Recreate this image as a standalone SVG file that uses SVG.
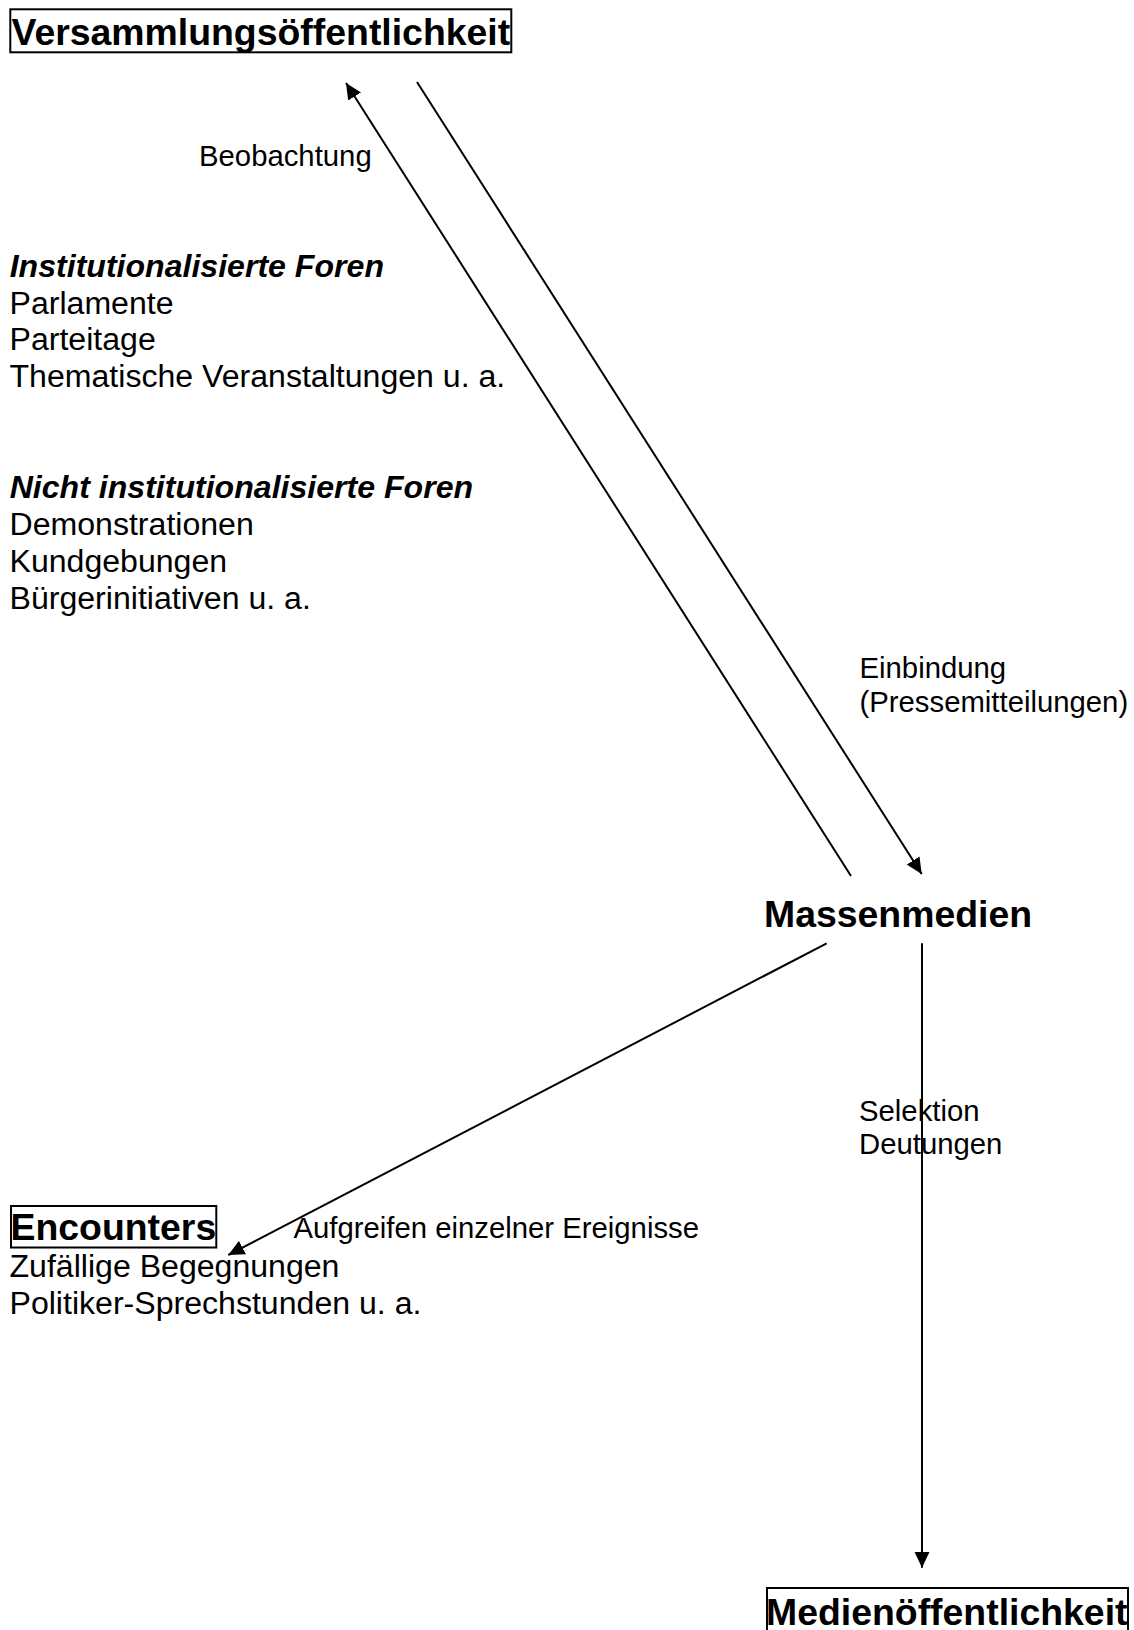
<svg xmlns="http://www.w3.org/2000/svg" width="1134" height="1630" viewBox="0 0 1134 1630">
  <defs>
    <marker id="arrowhead" markerUnits="userSpaceOnUse" markerWidth="18" markerHeight="18" refX="16" refY="7.6" orient="auto">
      <path d="M0,0 L16,7.6 L0,15.2 Z" fill="#000"/>
    </marker>
    <style>
      text { font-family: "Liberation Sans", Arial, sans-serif; fill: #000; }
      .title { font-size: 37.4px; font-weight: bold; }
      .head { font-size: 32.1px; font-weight: bold; font-style: italic; }
      .item { font-size: 32.1px; }
      .label { font-size: 29.3px; }
      .frame { fill: none; stroke: #000; stroke-width: 2; }
      .edge { fill: none; stroke: #000; stroke-width: 2; }
      .edge.arrow { marker-end: url(#arrowhead); }
    </style>
  </defs>
  <rect width="1134" height="1630" fill="#fff"/>

  <!-- connectors -->
  <g id="connectors">
    <line class="edge arrow" x1="851" y1="876" x2="346" y2="83"/>
    <line class="edge arrow" x1="417" y1="82" x2="921.7" y2="874"/>
    <line class="edge arrow" x1="826.7" y1="943.3" x2="228.3" y2="1255"/>
    <line class="edge arrow" x1="922" y1="943.3" x2="922" y2="1567.7"/>
  </g>

  <!-- edge labels -->
  <g id="edge-labels">
    <text class="label" x="199" y="165.5">Beobachtung</text>
    <text class="label" x="859.5" y="678.3">Einbindung</text>
    <text class="label" x="859.5" y="711.6">(Pressemitteilungen)</text>
    <text class="label" x="859" y="1120.7">Selektion</text>
    <text class="label" x="859" y="1154">Deutungen</text>
    <text class="label" x="293.5" y="1238">Aufgreifen einzelner Ereignisse</text>
  </g>

  <g id="node-versammlung">
    <rect class="frame" x="10.3" y="9.3" width="501" height="43"/>
    <text class="title" x="11.5" y="44.5">Versammlungsöffentlichkeit</text>
  </g>

  <g id="node-foren">
    <text class="head" x="9.7" y="276.7">Institutionalisierte Foren</text>
    <text class="item" x="9.5" y="313.5">Parlamente</text>
    <text class="item" x="9.5" y="350.3">Parteitage</text>
    <text class="item" x="9.5" y="387.1">Thematische Veranstaltungen u. a.</text>
    <text class="head" x="9.7" y="498.3">Nicht institutionalisierte Foren</text>
    <text class="item" x="9.5" y="535.1">Demonstrationen</text>
    <text class="item" x="9.5" y="571.9">Kundgebungen</text>
    <text class="item" x="9.5" y="608.7">Bürgerinitiativen u. a.</text>
  </g>

  <g id="node-massenmedien">
    <text class="title" x="764" y="926.5">Massenmedien</text>
  </g>

  <g id="node-encounters">
    <rect class="frame" x="11" y="1206" width="205.3" height="41.5"/>
    <text class="title" x="10.5" y="1239.5">Encounters</text>
    <text class="item" x="9.5" y="1277.3">Zufällige Begegnungen</text>
    <text class="item" x="9.5" y="1314.1">Politiker-Sprechstunden u. a.</text>
  </g>

  <g id="node-medienoeffentlichkeit">
    <rect class="frame" x="767" y="1588" width="361" height="60"/>
    <text class="title" x="766" y="1624.5">Medienöffentlichkeit</text>
  </g>
</svg>
